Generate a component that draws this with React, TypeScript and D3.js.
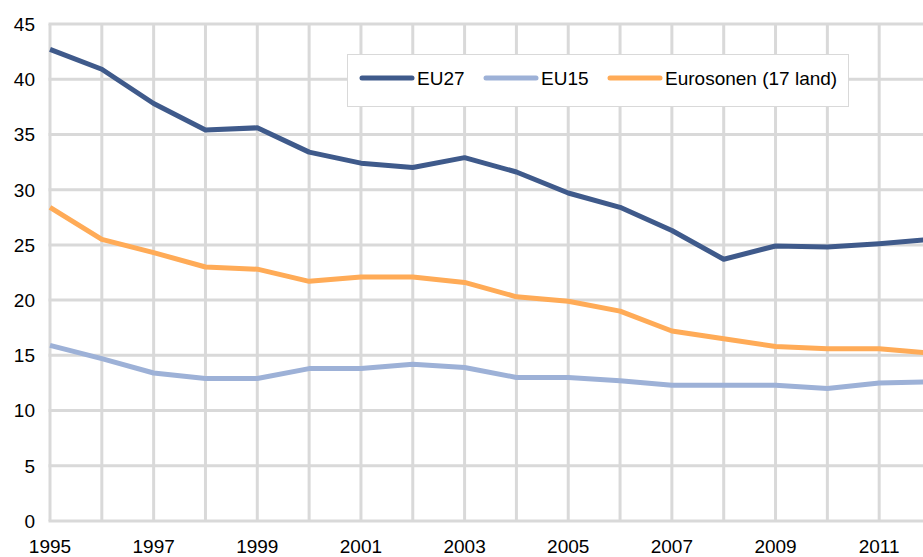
import React, { useRef, useEffect } from 'react';
import * as d3 from 'd3';

const years = [1995, 1996, 1997, 1998, 1999, 2000, 2001, 2002, 2003, 2004, 2005, 2006, 2007, 2008, 2009, 2010, 2011, 2012];
const eu27 = [42.7, 40.9, 37.8, 35.4, 35.6, 33.4, 32.4, 32.0, 32.9, 31.6, 29.7, 28.4, 26.3, 23.7, 24.9, 24.8, 25.1, 25.5];
const eu15 = [15.9, 14.7, 13.4, 12.9, 12.9, 13.8, 13.8, 14.2, 13.9, 13.0, 13.0, 12.7, 12.3, 12.3, 12.3, 12.0, 12.5, 12.6];
const euro17 = [28.4, 25.5, 24.3, 23.0, 22.8, 21.7, 22.1, 22.1, 21.6, 20.3, 19.9, 19.0, 17.2, 16.5, 15.8, 15.6, 15.6, 15.2];
const yTicks = [0, 5, 10, 15, 20, 25, 30, 35, 40, 45];
const xLabels = [1995, 1997, 1999, 2001, 2003, 2005, 2007, 2009, 2011];

const series = [
  { name: 'EU27', values: eu27, color: '#3F5A8B' },
  { name: 'EU15', values: eu15, color: '#9DB1D7' },
  { name: 'Eurosonen (17 land)', values: euro17, color: '#FFAB57' },
];

const width = 923;
const height = 557;

const App: React.FC = () => {
  const ref = useRef<SVGSVGElement>(null);

  useEffect(() => {
    if (!ref.current) return;
    const svg = d3.select(ref.current);
    svg.selectAll('*').remove();
    const font = '"Liberation Sans", Arial, sans-serif';

    const x = d3.scaleLinear().domain([1995, 2012]).range([50, 931]);
    const y = d3.scaleLinear().domain([0, 45]).range([521, 24]);

    const grid = svg.append('g').attr('stroke', '#D9D9D9').attr('stroke-width', 3);
    grid.selectAll('line.v')
      .data(years)
      .enter().append('line')
      .attr('x1', d => x(d)).attr('x2', d => x(d))
      .attr('y1', y(45)).attr('y2', y(0));
    grid.selectAll('line.h')
      .data(yTicks)
      .enter().append('line')
      .attr('x1', x(1995) - 1.5).attr('x2', width)
      .attr('y1', d => y(d)).attr('y2', d => y(d));

    svg.append('g').selectAll('text')
      .data(yTicks)
      .enter().append('text')
      .attr('x', 35).attr('y', d => y(d))
      .attr('dy', '0.36em')
      .attr('text-anchor', 'end')
      .attr('font-family', font).attr('font-size', 19)
      .attr('fill', '#000')
      .text(d => d);

    svg.append('g').selectAll('text')
      .data(xLabels)
      .enter().append('text')
      .attr('x', d => x(d)).attr('y', 553)
      .attr('text-anchor', 'middle')
      .attr('font-family', font).attr('font-size', 19)
      .attr('fill', '#000')
      .text(d => d);

    const line = d3.line<number>()
      .x((_, i) => x(years[i]))
      .y(d => y(d));

    series.forEach(s => {
      svg.append('path')
        .datum(s.values)
        .attr('fill', 'none')
        .attr('stroke', s.color)
        .attr('stroke-width', 5)
        .attr('stroke-linejoin', 'round')
        .attr('d', line);
    });

    // legend
    const lg = svg.append('g');
    lg.append('rect')
      .attr('x', 347.5).attr('y', 54.5)
      .attr('width', 501).attr('height', 52)
      .attr('fill', '#fff').attr('stroke', '#D9D9D9').attr('stroke-width', 1);
    const legendX = [362, 486, 610];
    series.forEach((s, i) => {
      const lx = legendX[i];
      lg.append('line')
        .attr('x1', lx).attr('x2', lx + 50)
        .attr('y1', 78).attr('y2', 78)
        .attr('stroke', s.color).attr('stroke-width', 5)
        .attr('stroke-linecap', 'round');
      lg.append('text')
        .attr('x', lx + 55).attr('y', 78)
        .attr('dy', '0.36em')
        .attr('font-family', font).attr('font-size', 19)
        .attr('fill', '#000')
        .text(s.name);
    });
  }, []);

  return (
    <svg ref={ref} width={width} height={height} viewBox={`0 0 ${width} ${height}`}
      style={{ position: 'absolute', left: 0, top: 0, background: '#fff' }} />
  );
};

export default App;
